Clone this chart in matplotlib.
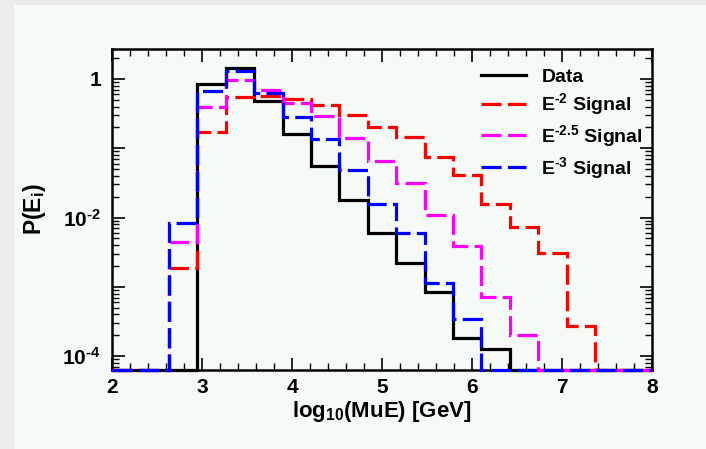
import numpy as np
import matplotlib
matplotlib.use('Agg')
import matplotlib.pyplot as plt
from matplotlib.ticker import LogLocator, NullFormatter, FuncFormatter, MultipleLocator
from matplotlib.patches import Rectangle

# ---------------- data ----------------
bin_edges = np.linspace(2.0, 8.0, 20)   # 19 bins in log10(MuE)
data_vals = [0, 0, 0, 0.85, 1.44, 0.485, 0.16, 0.0556, 0.0182, 0.0059,
             0.0022, 0.00085, 0.00018, 0.000125, 0, 0, 0, 0, 0]
e2_vals = [0, 0, 0.00186, 0.169, 0.55, 0.56, 0.51, 0.425, 0.305, 0.202,
           0.147, 0.0755, 0.0414, 0.0156, 0.0074, 0.00306, 0.00027, 0, 0]
e25_vals = [0, 0, 0.0045, 0.394, 0.97, 0.70, 0.45, 0.288, 0.14, 0.0645,
            0.0314, 0.0109, 0.0039, 0.00071, 0.0002, 0, 0, 0, 0]
e3_vals = [0, 0, 0.0083, 0.66, 1.32, 0.62, 0.28, 0.136, 0.0478, 0.0156,
           0.00607, 0.00113, 0.00034, 0, 0, 0, 0, 0, 0]
labels = ['Data', 'E$^{\\mathregular{\u20102}}$ Signal', 'E$^{\\mathregular{\u20102.5}}$ Signal',
          'E$^{\\mathregular{\u20103}}$ Signal']
colors = ['black', '#ff0000', '#ff00ff', '#0000ff']

# ---------------- style ----------------
plt.rcParams['font.family'] = ['Liberation Sans', 'DejaVu Sans']
plt.rcParams['font.weight'] = 'bold'
plt.rcParams['axes.labelweight'] = 'bold'
plt.rcParams['mathtext.fontset'] = 'custom'
plt.rcParams['mathtext.rm'] = 'Liberation Sans:bold'
plt.rcParams['mathtext.bf'] = 'Liberation Sans:bold'
plt.rcParams['mathtext.it'] = 'Liberation Sans:bold'
plt.rcParams['mathtext.sf'] = 'Liberation Sans:bold'
plt.rcParams['lines.scale_dashes'] = False

W, H = 706, 449
fig = plt.figure(figsize=(W / 100, H / 100), dpi=100, facecolor='#ececec')
fig.add_artist(Rectangle((14 / W, 0), 1, 1 - 5 / H, transform=fig.transFigure,
                         facecolor='#f5faf7', edgecolor='none', zorder=-5))

ax = fig.add_axes([112 / W, (H - 370) / H, 540 / W, 321 / H])
ax.set_facecolor('none')
ax.set_yscale('log')
ax.set_xlim(2, 8)
ax.set_ylim(6.3e-5, 2.71)
floor = ax.get_ylim()[0]

dash = (0, (14.5, 4.5))
styles = ['-', dash, dash, dash]
for vals, col, ls, lab in zip([data_vals, e2_vals, e25_vals, e3_vals], colors, styles, labels):
    v = np.array(vals, dtype=float)
    v = np.where(v > 0, v, floor)
    ax.stairs(v, bin_edges, baseline=None, fill=False, edgecolor=col,
              linestyle=ls, linewidth=2.3, label=lab, zorder=3, clip_on=False)

# ticks
ax.xaxis.set_major_locator(MultipleLocator(1))
ax.xaxis.set_minor_locator(MultipleLocator(0.2))
ax.yaxis.set_major_locator(LogLocator(base=10, numticks=20))
ax.yaxis.set_minor_locator(LogLocator(base=10, subs=np.arange(2, 10), numticks=20))
ax.yaxis.set_minor_formatter(NullFormatter())


def yfmt(v, pos):
    e = int(round(np.log10(v)))
    if e == 0:
        return '1'
    if e in (-2, -4):
        return '$\\mathregular{10^{\u2010%d}}$' % abs(e)
    return ''


ax.yaxis.set_major_formatter(FuncFormatter(yfmt))
ax.tick_params(which='both', direction='in', top=True, right=True, labelsize=15)
ax.tick_params(which='major', length=9, width=1.2)
ax.tick_params(which='minor', length=5, width=1.0)
ax.tick_params(axis='x', pad=6)
ax.tick_params(axis='y', pad=8)
for s in ax.spines.values():
    s.set_linewidth(1.8)

ax.set_xlabel(r'log$_{\mathregular{10}}$(MuE) [GeV]', fontsize=16, fontweight='bold', labelpad=1)
ax.set_ylabel(r'P(E$_{\mathregular{i}}$)', fontsize=16.5, fontweight='bold')
ax.yaxis.set_label_coords(-0.1185, 0.5)

ax.legend(loc='upper left', bbox_to_anchor=((481 - 112) / 540, (370 - 68) / 321),
          frameon=False, handlelength=2.3, handletextpad=0.8,
          labelspacing=0.3, borderpad=0, borderaxespad=0,
          prop={'weight': 'bold', 'size': 14})

fig.savefig('out.png', dpi=100, facecolor=fig.get_facecolor())
